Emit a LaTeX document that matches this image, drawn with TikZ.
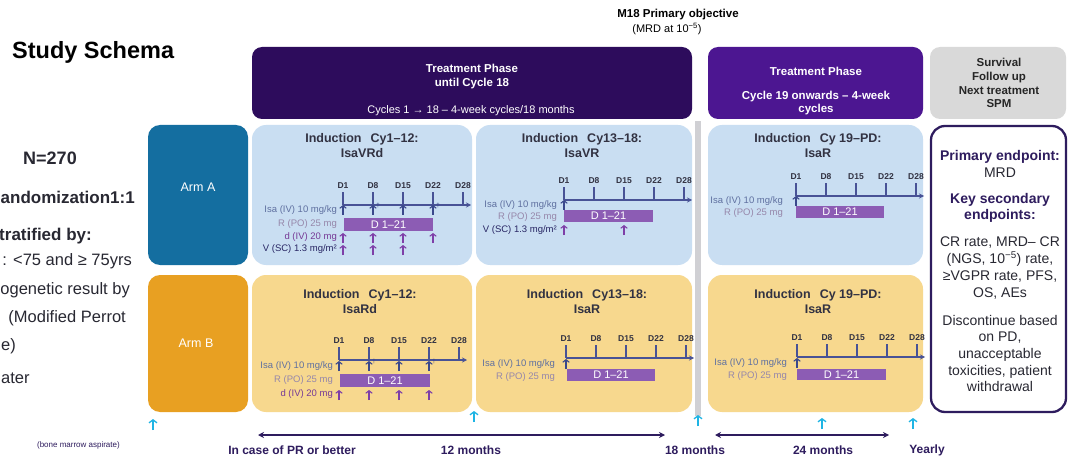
\documentclass[tikz,border=0pt]{standalone}
\usepackage{fontspec}
\setmainfont{Liberation Sans}
\usetikzlibrary{arrows.meta}
\definecolor{darkind}{RGB}{45,12,92}
\definecolor{purp2}{RGB}{76,22,145}
\definecolor{graybox}{RGB}{217,217,217}
\definecolor{armAc}{RGB}{20,110,160}
\definecolor{armBc}{RGB}{232,160,34}
\definecolor{ltblue}{RGB}{201,222,242}
\definecolor{ltyel}{RGB}{247,216,142}
\definecolor{rbarc}{RGB}{140,92,180}
\definecolor{axisc}{RGB}{72,82,150}
\definecolor{isac}{RGB}{95,112,160}
\definecolor{rlab}{RGB}{150,135,170}
\definecolor{dlab}{RGB}{118,58,150}
\definecolor{vlab}{RGB}{40,38,100}
\definecolor{isaarr}{RGB}{58,72,140}
\definecolor{darr}{RGB}{126,63,168}
\definecolor{cyanc}{RGB}{30,180,228}
\definecolor{navyb}{RGB}{46,28,94}
\definecolor{titlec}{RGB}{50,50,66}
\definecolor{txtc}{RGB}{40,40,50}
\definecolor{vbarc}{RGB}{208,208,212}
\newcommand\drawtl[3]{%
  \foreach \i/\d in {0/D1,1/D8,2/D15,3/D22,4/D28}{%
    \draw[axisl] ({#1+30*\i},#2) -- ({#1+30*\i},{#2-13});
    \node[day] (#3\i) at ({#1+30*\i},{#2-19}) {\d};
  }
  \draw[axisl,-{Stealth[length=5pt,width=5pt]}] (#1,#2) -- ({#1+128},#2);
}
\newcommand\myarr[3]{\draw[uparr,#3] (#1,{#2+5}) -- (#1,{#2-5});}
\newcommand\mydag[2]{\node[dag] at ({#1+5},{#2-4}) {†};}
\begin{document}
\begin{tikzpicture}[x=1pt,y=-1pt,
  panelA/.style={fill=ltblue, rounded corners=14pt},
  panelB/.style={fill=ltyel, rounded corners=14pt},
  hdr/.style={rounded corners=10pt},
  ptitle/.style={font=\fontsize{12.5}{15}\selectfont\bfseries, text=titlec, align=center},
  day/.style={font=\fontsize{8.5}{10}\selectfont\bfseries, text=titlec, inner sep=0pt},
  axisl/.style={draw=axisc, line width=1.2pt},
  rbar/.style={fill=rbarc, text=white, font=\fontsize{11}{12}\selectfont, inner sep=0pt},
  lbl/.style={anchor=east, font=\fontsize{9.5}{11}\selectfont, inner sep=0pt},
  uparr/.style={-{Straight Barb[length=2.6pt,width=6.5pt]}, line width=1.1pt},
  dag/.style={font=\fontsize{6}{7}\selectfont, text=isaarr, inner sep=0pt},
  whitehd/.style={text=white, align=center},
  lefttxt/.style={anchor=east, font=\fontsize{16.5}{19}\selectfont, text=txtc, inner sep=0pt},
  leftbold/.style={anchor=east, font=\fontsize{17}{19}\selectfont\bfseries, text=txtc, inner sep=0pt},
  rbold/.style={font=\fontsize{14}{16.7}\selectfont\bfseries, text=navyb, align=center, inner sep=0pt},
  rreg/.style={font=\fontsize{14}{16.7}\selectfont, text=txtc, align=center, inner sep=0pt},
  cyarr/.style={-{Straight Barb[length=3pt,width=8pt]}, line width=1.3pt, draw=cyanc},
  dbl/.style={{Stealth[length=6pt,width=6pt]}-{Stealth[length=6pt,width=6pt]}, line width=1.8pt, draw=navyb},
  btxt/.style={font=\fontsize{12}{14}\selectfont\bfseries, text=navyb, inner sep=0pt},
]
\useasboundingbox (0,0) rectangle (1068,457);
\clip (0,0) rectangle (1068,457);
\fill[white] (0,0) rectangle (1068,457);

% ---- left text (fragments as printed at the left edge)
\node[anchor=west, font=\fontsize{23.5}{26}\selectfont\bfseries, inner sep=0pt] (title) at (12,52) {Study Schema};
\node[font=\fontsize{18}{20}\selectfont\bfseries, text=txtc, inner sep=0pt] (nn) at (50,158) {N=270};
\node[leftbold] (rand) at (135,197) {andomization1:1};
\node[leftbold] (strat) at (92,236) {tratified by:};
\node[lefttxt] (age) at (132,261) {: <75 and ≥ 75yrs};
\node[lefttxt] (cyto) at (130,290) {ogenetic result by};
\node[lefttxt] (perrot) at (126,318) {(Modified Perrot};
\node[lefttxt, anchor=west] (score) at (1,346) {e)};
\node[lefttxt, anchor=west] (ater) at (1,378) {ater};
\node[anchor=east, font=\fontsize{8}{9}\selectfont, text=navyb, inner sep=0pt] (bma) at (120,445) {(bone marrow aspirate)};

% ---- top header
\node[font=\fontsize{11.5}{13}\selectfont\bfseries, inner sep=0pt] (m18) at (678,15) {M18 Primary objective};
\node[font=\fontsize{11}{13}\selectfont, inner sep=0pt] (mrd5) at (667,29) {(MRD at 10\textsuperscript{−5})};
\fill[darkind, hdr] (252,47) rectangle (692,119);
\node[whitehd, font=\fontsize{11.5}{14}\selectfont\bfseries] (tp1) at (472,77) {Treatment Phase\\until Cycle 18};
\node[whitehd, font=\fontsize{11}{13}\selectfont, inner sep=0pt] (cyc1) at (471,111) {Cycles 1 \textbf{→} 18 – 4-week cycles/18 months};
\fill[purp2, hdr] (708,47) rectangle (923,119);
\node[whitehd, font=\fontsize{11.5}{14}\selectfont\bfseries, inner sep=0pt] (tp2) at (816,71) {Treatment Phase};
\node[whitehd, font=\fontsize{11.5}{13}\selectfont\bfseries, inner sep=0pt] (cyc2) at (816,103.5) {Cycle 19 onwards – 4-week\\cycles};
\fill[graybox, hdr] (930,47) rectangle (1066,119);
\node[align=center, font=\fontsize{11.5}{13.8}\selectfont\bfseries, text=black!85, inner sep=0pt] (surv) at (999,83) {Survival\\Follow up\\Next treatment\\SPM};

% ---- vertical bar
\fill[vbarc] (695,121) rectangle (701,416);

% ---- arms
\fill[armAc, rounded corners=12pt] (148,125) rectangle (248,265);
\node[text=white, font=\fontsize{12.5}{14}\selectfont, inner sep=0pt] (armA) at (198,187) {Arm A};
\fill[armBc, rounded corners=12pt] (148,275) rectangle (248,412);
\node[text=white, font=\fontsize{12.5}{14}\selectfont, inner sep=0pt] (armB) at (196,343) {Arm B};

% ---- panels
\fill[panelA] (252,125) rectangle (472,265);
\fill[panelA] (476,125) rectangle (692,265);
\fill[panelA] (708,125) rectangle (923,265);
\fill[panelB] (252,275) rectangle (472,412);
\fill[panelB] (476,275) rectangle (692,412);
\fill[panelB] (708,275) rectangle (923,412);

% A1
\node[ptitle] (a1t) at (362,146) {Induction\hspace{0.45em} Cy1–12:\\IsaVRd};
\drawtl{343}{205}{a1d}
\node[lbl, text=isac] (a1isa) at (337,210) {Isa (IV) 10 mg/kg};
\node[lbl, text=rlab] (a1r) at (337,224) {R (PO) 25 mg};
\node[lbl, text=dlab] (a1dd) at (337,237) {d (IV) 20 mg};
\node[lbl, text=vlab] (a1v) at (337,249) {V (SC) 1.3 mg/m²};
\myarr{343}{210}{isaarr}\myarr{373}{210}{isaarr}\myarr{403}{210}{isaarr}\myarr{433}{210}{isaarr}
\mydag{373}{210}\mydag{433}{210}
\node[rbar, minimum width=89pt, minimum height=13pt] (a1bar) at (388.5,224.5) {D 1–21};
\myarr{343}{238}{darr}\myarr{373}{238}{darr}\myarr{403}{238}{darr}\myarr{433}{238}{darr}
\myarr{343}{250}{darr}\myarr{373}{250}{darr}\myarr{403}{250}{darr}

% A2
\node[ptitle] (a2t) at (582,146) {Induction\hspace{0.45em} Cy13–18:\\IsaVR};
\drawtl{564}{200}{a2d}
\node[lbl, text=isac] (a2isa) at (557,205) {Isa (IV) 10 mg/kg};
\node[lbl, text=rlab] (a2r) at (557,217) {R (PO) 25 mg};
\node[lbl, text=vlab] (a2v) at (557,230) {V (SC) 1.3 mg/m²};
\myarr{564}{205}{isaarr}
\node[rbar, minimum width=89pt, minimum height=12pt] (a2bar) at (608.5,216) {D 1–21};
\myarr{564}{230}{darr}\myarr{624}{230}{darr}

% A3
\node[ptitle] (a3t) at (818,146) {Induction\hspace{0.45em} Cy 19–PD:\\IsaR};
\drawtl{796}{196}{a3d}
\node[lbl, text=isac] (a3isa) at (783,201) {Isa (IV) 10 mg/kg};
\node[lbl, text=rlab] (a3r) at (783,213) {R (PO) 25 mg};
\myarr{796}{201}{isaarr}
\node[rbar, minimum width=88pt, minimum height=12pt] (a3bar) at (840,212) {D 1–21};

% B1
\node[ptitle] (b1t) at (360,301.5) {Induction\hspace{0.45em} Cy1–12:\\IsaRd};
\drawtl{339}{360}{b1d}
\node[lbl, text=isac] (b1isa) at (333,366) {Isa (IV) 10 mg/kg};
\node[lbl, text=rlab] (b1r) at (333,380) {R (PO) 25 mg};
\node[lbl, text=dlab] (b1dd) at (333,394) {d (IV) 20 mg};
\myarr{339}{366}{isaarr}\myarr{369}{366}{isaarr}\myarr{399}{366}{isaarr}\myarr{429}{366}{isaarr}
\mydag{369}{366}\mydag{429}{366}
\node[rbar, minimum width=90pt, minimum height=13pt] (b1bar) at (385,380.5) {D 1–21};
\myarr{339}{395}{darr}\myarr{369}{395}{darr}\myarr{399}{395}{darr}\myarr{429}{395}{darr}

% B2
\node[ptitle] (b2t) at (587,301.5) {Induction\hspace{0.45em} Cy13–18:\\IsaR};
\drawtl{566}{358}{b2d}
\node[lbl, text=isac] (b2isa) at (555,364) {Isa (IV) 10 mg/kg};
\node[lbl, text=rlab] (b2r) at (555,377) {R (PO) 25 mg};
\myarr{566}{364}{isaarr}
\node[rbar, minimum width=88pt, minimum height=12pt] (b2bar) at (611,375) {D 1–21};

% B3
\node[ptitle] (b3t) at (818,301.5) {Induction\hspace{0.45em} Cy 19–PD:\\IsaR};
\drawtl{797}{357}{b3d}
\node[lbl, text=isac] (b3isa) at (787,363) {Isa (IV) 10 mg/kg};
\node[lbl, text=rlab] (b3r) at (787,376) {R (PO) 25 mg};
\myarr{797}{363}{isaarr}
\node[rbar, minimum width=89pt, minimum height=11pt] (b3bar) at (841.5,374.5) {D 1–21};

% ---- right box
\draw[line width=2.3pt, draw=navyb, fill=white, rounded corners=14pt] (931,126) rectangle (1066,412);
\node[rbold] (pe) at (1000,157) {Primary endpoint:};
\node[rreg] (pmrd) at (1000,173) {MRD};
\node[rbold] (kse) at (1000,208) {Key secondary\\endpoints:};
\node[rreg] (ksl) at (1000,268) {CR rate, MRD– CR\\(NGS, 10\textsuperscript{−5}) rate,\\≥VGPR rate, PFS,\\OS, AEs};
\node[rreg] (disc) at (1000,353.5) {Discontinue based\\on PD,\\unacceptable\\toxicities, patient\\withdrawal};

% ---- bottom
\draw[cyarr] (153,430) -- (153,419);
\draw[cyarr] (474,422) -- (474,411);
\draw[cyarr] (698,426) -- (698,415);
\draw[cyarr] (822,429) -- (822,418);
\draw[cyarr] (913,429) -- (913,418);
\coordinate (m12a) at (258,435);
\coordinate (m12b) at (665,435);
\coordinate (m24a) at (715,435);
\coordinate (m24b) at (889,435);
\draw[dbl] (m12a) -- (m12b);
\draw[dbl] (m24a) -- (m24b);
\node[btxt] (pr) at (292,450) {In case of PR or better};
\node[btxt] (m12) at (471,450) {12 months};
\node[btxt] (m18b) at (695,450) {18 months};
\node[btxt] (m24) at (823,450) {24 months};
\node[btxt] (yr) at (927,450) {Yearly};
\end{tikzpicture}
\end{document}
